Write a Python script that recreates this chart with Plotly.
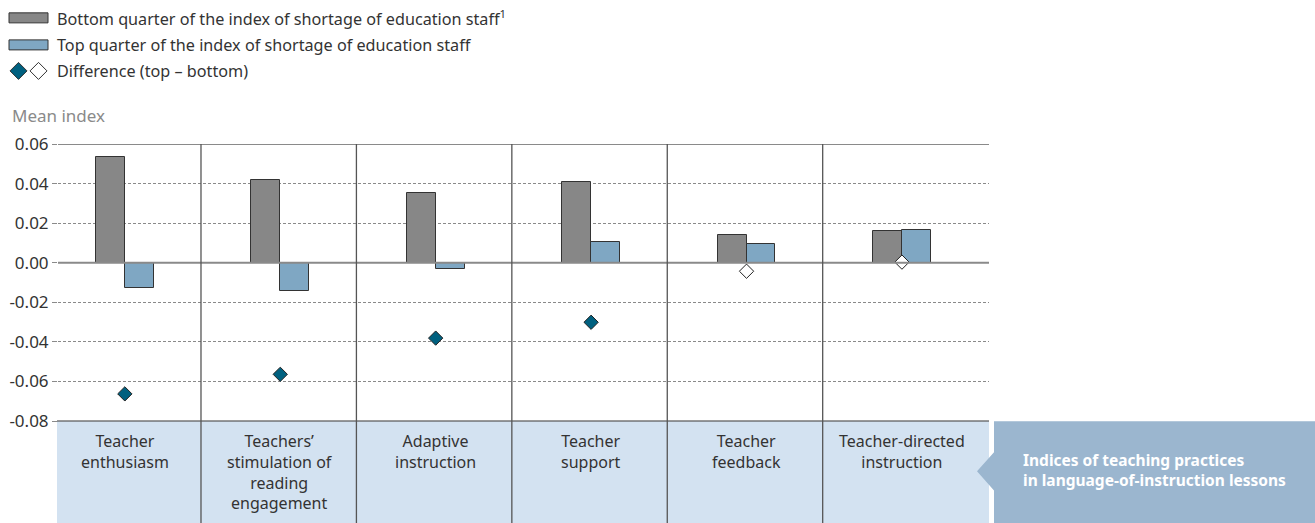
import plotly.graph_objects as go

# ---- data -------------------------------------------------------------
categories = [
    "Teacher<br>enthusiasm",
    "Teachers’<br>stimulation of<br>reading<br>engagement",
    "Adaptive<br>instruction",
    "Teacher<br>support",
    "Teacher<br>feedback",
    "Teacher-directed<br>instruction",
]
bottom_quarter = [0.0535, 0.0419, 0.0351, 0.0407, 0.0139, 0.0159]
top_quarter = [-0.0128, -0.0145, -0.0030, 0.0106, 0.0096, 0.0164]
difference = [-0.0663, -0.0564, -0.0381, -0.0301, -0.0043, 0.0003]
significant = [True, True, True, True, False, False]
y_ticks = [0.06, 0.04, 0.02, 0.00, -0.02, -0.04, -0.06, -0.08]
y_tick_labels = ["0.06", "0.04", "0.02", "0.00", "-0.02", "-0.04", "-0.06", "-0.08"]

legend_labels = [
    "Bottom quarter of the index of shortage of education staff<sup>1</sup>",
    "Top quarter of the index of shortage of education staff",
    "Difference (top – bottom)",
]
group_title = "Indices of teaching practices<br>in language-of-instruction lessons"

# ---- styling ----------------------------------------------------------
W, H = 1315, 523
L, R, T, B = 58, 989, 144, 420.7
FONT = "Noto Sans"
TEXT = "#333333"
GREY = "#878787"
BLUE = "#7fa7c3"
TEAL = "#00607f"
BAND = "#d3e2f1"
BOX = "#9bb6cf"
BAR_W = 0.186
X_RANGE = [-0.43, 5.56]


def px(x):
    return (x - L) / (R - L)


def py(y):
    return (B - y) / (B - T)


n = len(categories)
xs = list(range(n))

fig = go.Figure()
fig.add_trace(go.Bar(
    x=xs, y=bottom_quarter, offset=-BAR_W, width=BAR_W,
    marker=dict(color=GREY, line=dict(color="#333333", width=1)),
    name=legend_labels[0], showlegend=False,
))
fig.add_trace(go.Bar(
    x=xs, y=top_quarter, offset=0, width=BAR_W,
    marker=dict(color=BLUE, line=dict(color="#333333", width=1)),
    name=legend_labels[1], showlegend=False,
))
fig.add_trace(go.Scatter(
    x=xs, y=difference, mode="markers",
    marker=dict(symbol="diamond", size=11,
                color=[TEAL if s else "white" for s in significant],
                line=dict(color="#222222", width=1)),
    name=legend_labels[2], showlegend=False, cliponaxis=False,
))

shapes = []
# category label band below the plot
shapes.append(dict(type="rect", xref="paper", yref="paper",
                   x0=px(57), x1=px(989), y0=py(523), y1=py(421),
                   fillcolor=BAND, line=dict(width=0), layer="below"))
# group title box with arrow
shapes.append(dict(type="path", xref="paper", yref="paper",
                   path=(f"M {px(994)} {py(421)} L {px(1315)} {py(421)} "
                         f"L {px(1315)} {py(523)} L {px(994)} {py(523)} "
                         f"L {px(994)} {py(490)} L {px(977)} {py(471)} "
                         f"L {px(994)} {py(452)} Z"),
                   fillcolor=BOX, line=dict(width=0)))
# solid lines at the top of the plot and at zero
shapes.append(dict(type="line", xref="paper", yref="y", x0=0, x1=1,
                   y0=0.06, y1=0.06, line=dict(color="#8a8a8a", width=2)))
shapes.append(dict(type="line", xref="paper", yref="y", x0=0, x1=1,
                   y0=0, y1=0, line=dict(color="#8a8a8a", width=2)))
shapes.append(dict(type="line", xref="paper", yref="paper", x0=px(57), x1=1,
                   y0=0, y1=0, line=dict(color="#333333", width=1)))
# category dividers through plot and label band
for i in range(n - 1):
    shapes.append(dict(type="line", xref="x", yref="paper",
                       x0=i + 0.49, x1=i + 0.49, y0=py(523), y1=1,
                       line=dict(color="#555555", width=1.3)))

annotations = []
for i, lab in enumerate(categories):
    annotations.append(dict(
        x=i, xref="x", y=py(428), yref="paper", text=lab, showarrow=False,
        xanchor="center", yanchor="top", align="center",
        font=dict(family=FONT, size=16, color=TEXT)))

annotations.append(dict(
    x=px(1021), xref="paper", y=py(470), yref="paper", text=f"<b>{group_title}</b>",
    showarrow=False, xanchor="left", yanchor="middle", align="left",
    font=dict(family=FONT, size=15.5, color="white")))

annotations.append(dict(
    x=px(10), xref="paper", y=py(116), yref="paper", text="Mean index",
    showarrow=False, xanchor="left", yanchor="middle",
    font=dict(family=FONT, size=17, color="#8a8a8a")))

# legend drawn at the top
leg_rows = [18, 45, 71]
shapes.append(dict(type="rect", xref="paper", yref="paper",
                   x0=px(9), x1=px(48), y0=py(23), y1=py(13),
                   fillcolor=GREY, line=dict(color="#333333", width=1)))
shapes.append(dict(type="rect", xref="paper", yref="paper",
                   x0=px(9), x1=px(48), y0=py(50), y1=py(40),
                   fillcolor=BLUE, line=dict(color="#333333", width=1)))
for cx, fill in [(18.5, TEAL), (38.5, "white")]:
    cy = leg_rows[2]
    d = 8.5
    shapes.append(dict(type="path", xref="paper", yref="paper",
                       path=(f"M {px(cx - d)} {py(cy)} L {px(cx)} {py(cy - d)} "
                             f"L {px(cx + d)} {py(cy)} L {px(cx)} {py(cy + d)} Z"),
                       fillcolor=fill, line=dict(color="#333333", width=1)))
for yrow, lab in zip(leg_rows, legend_labels):
    annotations.append(dict(
        x=px(55), xref="paper", y=py(yrow), yref="paper", text=lab,
        showarrow=False, xanchor="left", yanchor="middle",
        font=dict(family=FONT, size=16.2, color=TEXT)))

fig.update_layout(
    width=W, height=H,
    margin=dict(l=L, r=W - R, t=T, b=H - B, autoexpand=False),
    paper_bgcolor="white", plot_bgcolor="white",
    showlegend=False, bargap=0,
    shapes=shapes, annotations=annotations,
    font=dict(family=FONT, color=TEXT),
)
fig.update_xaxes(range=X_RANGE, showgrid=False, zeroline=False, automargin=False,
                 showticklabels=False, ticks="", showline=False, fixedrange=True)
fig.update_yaxes(range=[-0.08, 0.06], tickvals=y_ticks, ticktext=y_tick_labels,
                 showgrid=True, gridcolor="#8a8a8a", gridwidth=1, griddash="3px,2px",
                 zeroline=False, showline=False, automargin=False,
                 ticks="outside", ticklen=5, tickcolor="#8a8a8a",
                 tickfont=dict(family=FONT, size=17, color=TEXT), fixedrange=True)

fig.write_html("out.html")
